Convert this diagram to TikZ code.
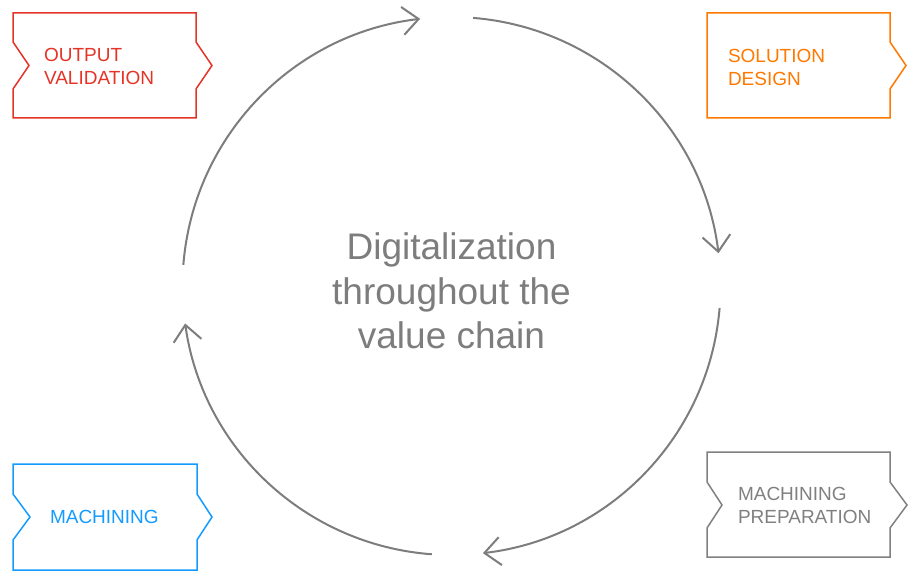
\documentclass[tikz,border=0pt]{standalone}
\usepackage{fontspec}
\setmainfont{Liberation Sans}
\usetikzlibrary{arrows.meta}

\definecolor{ovred}{RGB}{228,52,40}
\definecolor{sdorange}{RGB}{255,120,0}
\definecolor{mablue}{RGB}{20,155,255}
\definecolor{mpgray}{RGB}{128,128,128}
\definecolor{cyclegray}{RGB}{125,125,125}

\begin{document}
\begin{tikzpicture}[x=1pt,y=1pt,line width=2pt,>={Straight Barb[length=16pt,width=28pt]}]
\useasboundingbox (0,0) rectangle (913,571);
\coordinate (C) at (451.5,285);

% the cycle
\draw[->,cyclegray] (C) ++(175.5:269) arc[start angle=175.5,end angle=96.7,radius=269];
\draw[->,cyclegray] (C) ++(85.4:269) arc[start angle=85.4,end angle=7,radius=269];
\draw[->,cyclegray] (C) ++(-4.7:269) arc[start angle=-4.7,end angle=-83.3,radius=269];
\draw[->,cyclegray] (C) ++(-94.2:269) arc[start angle=-94.2,end angle=-172,radius=269];

\node (title) at ([yshift=-5pt]C) [align=center,text=cyclegray,font=\fontsize{37}{44.5}\selectfont] {Digitalization\\throughout the\\value chain};

% the four steps
\draw[ovred,line width=1.5pt] (13,453)--(196,453)--(196,482)--(212,505.5)--(196,529)--(196,558)--(13,558)--(13,529)--(29,505.5)--(13,482)--cycle;
\node (ov) at (43,504.5) [anchor=west,inner sep=0,align=left,text=ovred,font=\fontsize{19}{23}\selectfont] {OUTPUT\\VALIDATION};

\draw[sdorange,line width=1.5pt] (707,453)--(890,453)--(890,482)--(906,505.5)--(890,529)--(890,558)--(707,558)--cycle;
\node (sd) at (727,503.5) [anchor=west,inner sep=0,align=left,text=sdorange,font=\fontsize{19}{23}\selectfont] {SOLUTION\\DESIGN};

\draw[mablue,line width=1.5pt] (13,1)--(197,1)--(197,31)--(212,54)--(197,77)--(197,107)--(13,107)--(13,77)--(30,54)--(13,31)--cycle;
\node (ma) at (49,54) [anchor=west,inner sep=0,align=left,text=mablue,font=\fontsize{19}{23}\selectfont] {MACHINING};

\draw[mpgray,line width=1.5pt] (707,14)--(890,14)--(890,43)--(907,66)--(890,89)--(890,119)--(707,119)--(707,89)--(722,66)--(707,43)--cycle;
\node (mp) at (737,65.5) [anchor=west,inner sep=0,align=left,text=mpgray,font=\fontsize{19}{23}\selectfont] {MACHINING\\PREPARATION};

\end{tikzpicture}
\end{document}
